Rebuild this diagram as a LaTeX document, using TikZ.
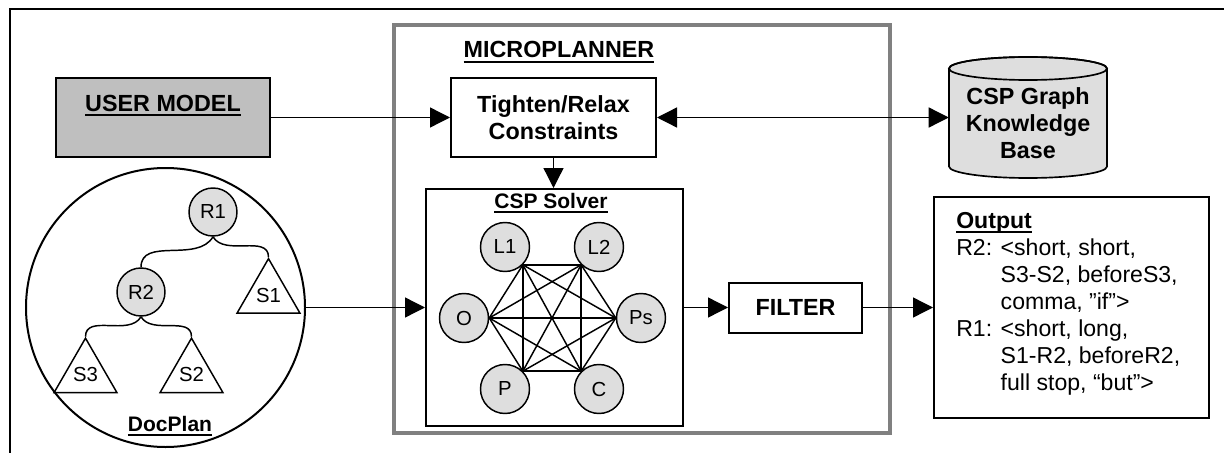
\documentclass[tikz,border=0pt]{standalone}
\usepackage{fontspec}
\setmainfont{Liberation Sans}
\usetikzlibrary{arrows.meta,shapes.geometric}

\newcommand{\undl}[1]{\setbox0=\hbox{#1}\rlap{\rule[-3.5pt]{\wd0}{1.5pt}}\box0}
\newcommand{\bigb}{\fontsize{17.5}{20.25}\selectfont\bfseries}
\newcommand{\midb}{\fontsize{15.75}{19}\selectfont\bfseries}
\newcommand{\lblf}{\fontsize{15.25}{17}\selectfont}
\newcommand{\outf}{\fontsize{17.3}{20.25}\selectfont}

\begin{document}
\begin{tikzpicture}[x=0.75pt, y=0.75pt,
  box/.style={draw, line width=1.5pt, inner sep=0pt},
  var/.style={circle, draw, line width=1.1pt, fill=black!13, minimum size=36.75pt, inner sep=0pt, font=\lblf},
  tri/.style={regular polygon, regular polygon sides=3, draw, line width=1.1pt, minimum size=54.5pt, inner sep=0pt, font=\lblf},
  conn/.style={line width=1pt, -{Triangle[length=15pt, width=15pt]}},
  edge/.style={line width=1.1pt}]
\useasboundingbox (0,0) rectangle (1224,-453);
\draw[line width=1.5pt] (10,-470) -- (10,-9) -- (1240,-9);

% microplanner frame
\node[draw=black!50, line width=3.4pt, minimum width=372pt, minimum height=306pt] (micro) at (642,-229) {};
\node[anchor=base, font=\bigb] (microtxt) at (559,-58) {\undl{MICROPLANNER}};

% user model
\node[box, fill=black!25, minimum width=160.5pt, minimum height=59.25pt] (user) at (163,-117.5) {};
\node[anchor=base, font=\bigb] (usertxt) at (163,-111) {\undl{USER MODEL}};

\node[box, align=center, font=\bigb, minimum width=153.75pt, minimum height=59.25pt] (tighten) at (553.5,-117.5) {Tighten/Relax\\Constraints};

% knowledge base
\filldraw[line width=1.25pt, fill=black!13] (949,-68.5) -- (949,-166.5) arc[start angle=180, end angle=360, x radius=79, y radius=11.5] -- (1107,-68.5) arc[start angle=0, end angle=180, x radius=79, y radius=11.5] -- cycle;
\draw[line width=1.25pt] (1028,-68.5) ellipse [x radius=79, y radius=11.5];
\node[align=center, font=\bigb, minimum width=118.5pt, inner sep=0pt] (kb) at (1028,-123.5) {CSP Graph\\Knowledge\\Base};

% csp solver
\node[box, minimum width=192.75pt, minimum height=177.75pt] (solver) at (554.5,-307.5) {};
\node[anchor=base, font=\midb] (solvertxt) at (551,-208) {\undl{CSP Solver}};
\node[var] (l1) at (505,-247) {L1};
\node[var] (l2) at (599,-247) {L2};
\node[var] (o) at (464,-318) {O};
\node[var] (ps) at (641,-318) {Ps};
\node[var] (p) at (505,-389) {P};
\node[var] (c) at (599,-389) {C};
\path (l1.-45) coordinate (v1) (l2.-135) coordinate (v2) (ps.180) coordinate (v3)
  (c.135) coordinate (v4) (p.45) coordinate (v5) (o.0) coordinate (v6);
\foreach \i in {1,...,5}{
  \pgfmathtruncatemacro{\k}{\i+1}
  \foreach \j in {\k,...,6}
    \draw[edge] (v\i) -- (v\j);
}

\node[box, font=\bigb, minimum width=99.75pt, minimum height=37.5pt] (filter) at (795.5,-307.5) {FILTER};

% output
\node[box, minimum width=206.25pt, minimum height=165.75pt] (out) at (1071.5,-307.5) {};
\node[anchor=north west, align=left, inner sep=0pt, font=\outf] (outtxt) at (956,-212) {\undl{\textbf{Output}}\\
R2: <short, short,\\
\hphantom{R2: }S3-S2, beforeS3,\\
\hphantom{R2: }comma, ”if”>\\
R1: <short, long,\\
\hphantom{R2: }S1-R2, beforeR2,\\
\hphantom{R2: }full stop, “but”>};

% docplan
\node[circle, draw, line width=1.5pt, minimum size=209.25pt, inner sep=0pt] (plan) at (165.5,-307.5) {};
\node[anchor=base, font=\midb] (plantxt) at (170,-431) {\undl{DocPlan}};
\node[var, minimum size=36pt] (r1) at (213,-212) {R1};
\node[var, minimum size=36pt] (r2) at (141,-292) {R2};
\node[tri] (s1) at (268.5,-295) {S1};
\node[tri] (s3) at (85.5,-374.5) {S3};
\node[tri] (s2) at (191.5,-374.5) {S2};
\draw[edge] (r1.south) to[out=-120, in=90] (r2.north);
\draw[edge] (r1.south) to[out=-60, in=90] (s1.corner 1);
\draw[edge] (r2.south) to[out=-120, in=90] (s3.corner 1);
\draw[edge] (r2.south) to[out=-60, in=90] (s2.corner 1);

% connectors
\draw[conn] (user.east) -- (tighten.west);
\draw[conn, {Triangle[length=15pt, width=15pt]}-{Triangle[length=15pt, width=15pt]}] (tighten.east) -- (tighten.east -| kb.west);
\draw[conn] (tighten.south) -- (tighten.south |- solver.north);
\draw[conn] (plan.east) -- (solver.west);
\draw[conn] (solver.east) -- (filter.west);
\draw[conn] (filter.east) -- (out.west);
\end{tikzpicture}
\end{document}
